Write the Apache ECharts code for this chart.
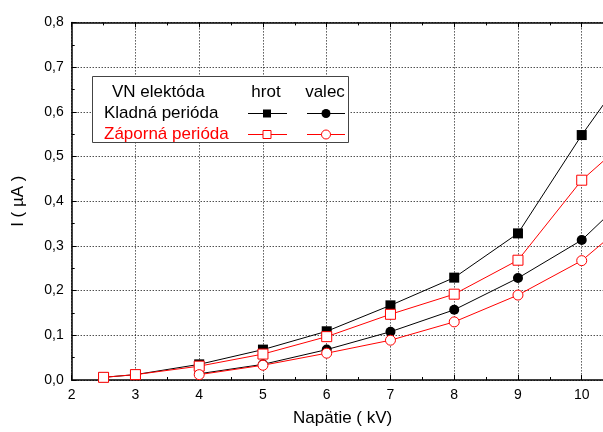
<!DOCTYPE html>
<html>
<head>
<meta charset="utf-8">
<script src="https://cdn.jsdelivr.net/npm/echarts@6/dist/echarts.min.js"></script>
<style>
  html, body { margin: 0; padding: 0; background: #fff; overflow: hidden; }
  /* the plot area runs past the right edge of the window */
  #chart { width: 614px; height: 432px; }
</style>
</head>
<body>
<div id="chart"></div>
<script>
// Voltage steps (kV)
const voltageHrot = [2.5, 3, 4, 5, 6, 7, 8, 9, 10, 10.5];
const voltageValec = [4, 5, 6, 7, 8, 9, 10, 10.5];

// Current (µA) for each electrode and half-period
const kladnaHrot  = [0.006, 0.012, 0.035, 0.068, 0.109, 0.167, 0.229, 0.328, 0.548, 0.648];
const zapornaHrot = [0.006, 0.012, 0.031, 0.058, 0.097, 0.147, 0.192, 0.268, 0.447, 0.510];
const kladnaValec  = [0.014, 0.035, 0.068, 0.108, 0.157, 0.228, 0.313, 0.381];
const zapornaValec = [0.012, 0.033, 0.060, 0.089, 0.130, 0.190, 0.267, 0.327];

// Legend table texts
const legendHeader = ['VN elektóda', 'hrot', 'valec'];
const rowLabels = ['Kladná perióda', 'Záporná perióda'];

const xName = 'Napätie ( kV)';
const yName = 'I ( µA )';

const FONT = '"Liberation Sans", Arial, sans-serif';
const RED = '#ff0000';
const BLACK = '#000000';

const pairs = (xs, ys) => xs.map((x, i) => [x, ys[i]]);

const gridLine = { show: true, lineStyle: { color: '#000', width: 1, type: [1, 2] } };

const chart = echarts.init(document.getElementById('chart'), null, { renderer: 'canvas' });

function legendGraphics() {
  const g = [];
  g.push({ type: 'rect', shape: { x: 92.5, y: 76.5, width: 256, height: 66 },
           style: { fill: '#fff', stroke: '#444', lineWidth: 1 }, z: 100 });
  const txt = (t, x, y, color, align) => ({
    type: 'text', x: x, y: y, z: 101,
    style: { text: t, fill: color, font: '17px ' + FONT, textAlign: align || 'left', textVerticalAlign: 'middle' }
  });
  g.push(txt(legendHeader[0], 112, 92, BLACK));
  g.push(txt(legendHeader[1], 266, 92, BLACK, 'center'));
  g.push(txt(legendHeader[2], 325, 92, BLACK, 'center'));
  g.push(txt(rowLabels[0], 104, 113, BLACK));
  g.push(txt(rowLabels[1], 104, 134, RED));
  const seg = (x1, x2, y, color) => ({ type: 'line', z: 101,
    shape: { x1: x1, y1: y, x2: x2, y2: y }, style: { stroke: color, lineWidth: 1 } });
  // Kladná row
  g.push(seg(248, 287, 113.5, BLACK));
  g.push({ type: 'rect', z: 102, shape: { x: 263, y: 109.5, width: 8, height: 8 }, style: { fill: BLACK } });
  g.push(seg(307, 345, 113.5, BLACK));
  g.push({ type: 'circle', z: 102, shape: { cx: 326, cy: 113.5, r: 4.5 }, style: { fill: BLACK } });
  // Záporná row
  g.push(seg(248, 287, 134.5, RED));
  g.push({ type: 'rect', z: 102, shape: { x: 263, y: 130.5, width: 8, height: 8 }, style: { fill: '#fff', stroke: RED, lineWidth: 1 } });
  g.push(seg(307, 345, 134.5, RED));
  g.push({ type: 'circle', z: 102, shape: { cx: 326, cy: 134.5, r: 4.5 }, style: { fill: '#fff', stroke: RED, lineWidth: 1 } });
  return g;
}

const option = {
  animation: false,
  backgroundColor: '#fff',
  textStyle: { fontFamily: FONT },
  grid: { left: 71.7, top: 22.4, bottom: 52, right: 0.4, containLabel: false },
  xAxis: [{
    type: 'value', min: 2, max: 10.5, interval: 1, position: 'bottom',
    name: xName, nameLocation: 'middle', nameGap: 30,
    nameTextStyle: { fontSize: 17, color: '#000', fontFamily: FONT },
    axisLine: { show: true, onZero: false, lineStyle: { color: '#000', width: 1.5 } },
    axisTick: { show: true, inside: true, length: 5, lineStyle: { color: '#000' } },
    minorTick: { show: true, splitNumber: 2, length: 3, lineStyle: { color: '#000' } },
    axisLabel: { color: '#000', fontSize: 14, margin: 8, fontFamily: FONT, showMaxLabel: false,
                 formatter: v => Number.isInteger(v) ? String(v) : '' },
    splitLine: gridLine
  }, {
    type: 'value', min: 2, max: 10.5, interval: 1, position: 'top',
    axisLine: { show: true, onZero: false, lineStyle: { color: '#000', width: 1.5 } },
    axisTick: { show: true, inside: true, length: 5, lineStyle: { color: '#000' } },
    minorTick: { show: true, splitNumber: 2, length: 3, lineStyle: { color: '#000' } },
    axisLabel: { show: false },
    splitLine: { show: false }
  }],
  yAxis: {
    type: 'value', min: 0, max: 0.8, interval: 0.1,
    name: yName, nameLocation: 'middle', nameGap: 45,
    nameTextStyle: { fontSize: 17, color: '#000', fontFamily: FONT },
    axisLine: { show: true, onZero: false, lineStyle: { color: '#000', width: 1.5 } },
    axisTick: { show: true, inside: true, length: 5, lineStyle: { color: '#000' } },
    minorTick: { show: true, splitNumber: 2, length: 3, lineStyle: { color: '#000' } },
    axisLabel: { color: '#000', fontSize: 14, margin: 8, fontFamily: FONT,
                 formatter: v => v.toFixed(1).replace('.', ',') },
    splitLine: gridLine
  },
  series: [
    { name: 'Kladná hrot', type: 'line', data: pairs(voltageHrot, kladnaHrot),
      symbol: 'rect', symbolSize: 10, clip: true,
      lineStyle: { color: BLACK, width: 1 }, itemStyle: { color: BLACK } },
    { name: 'Kladná valec', type: 'line', data: pairs(voltageValec, kladnaValec),
      symbol: 'circle', symbolSize: 10, clip: true,
      lineStyle: { color: BLACK, width: 1 }, itemStyle: { color: BLACK } },
    { name: 'Záporná hrot', type: 'line', data: pairs(voltageHrot, zapornaHrot),
      symbol: 'rect', symbolSize: 10, clip: true,
      lineStyle: { color: RED, width: 1 },
      itemStyle: { color: '#fff', borderColor: RED, borderWidth: 1 } },
    { name: 'Záporná valec', type: 'line', data: pairs(voltageValec, zapornaValec),
      symbol: 'circle', symbolSize: 10, clip: true,
      lineStyle: { color: RED, width: 1 },
      itemStyle: { color: '#fff', borderColor: RED, borderWidth: 1 } }
  ],
  graphic: legendGraphics()
};

chart.setOption(option);
</script>
</body>
</html>
